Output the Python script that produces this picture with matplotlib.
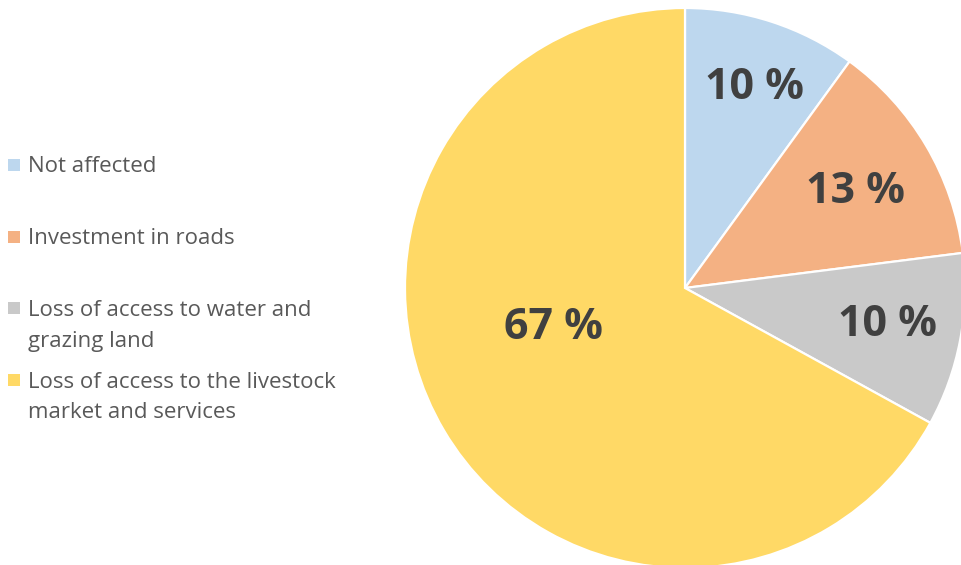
import matplotlib.pyplot as plt
from matplotlib.patches import Rectangle

# share of respondents by effect
categories = ['Not affected', 'Investment in roads',
              'Loss of access to water and\ngrazing land',
              'Loss of access to the livestock\nmarket and services']
shares = [10, 13, 10, 67]
colors = ['#BDD7EE', '#F4B183', '#C9C9C9', '#FFD966']

W, H = 962, 565
fig = plt.figure(figsize=(W / 100, H / 100), dpi=100)

# pie axes: centre (685, 288) px, radius 280 px
cx, cy, r = 685, 288, 280
ax = fig.add_axes([(cx - r) / W, (H - cy - r) / H, 2 * r / W, 2 * r / H])
wedges, texts, pcts = ax.pie(shares, colors=colors, startangle=90, counterclock=False,
                             radius=1, autopct=lambda p: f'{p:.0f} %', pctdistance=0.73,
                             wedgeprops=dict(edgecolor='white', linewidth=1.6),
                             textprops=dict(color='#404040', fontsize=31, fontweight='bold',
                                            family='Open Sans'))
ax.set_xlim(-1, 1)
ax.set_ylim(-1, 1)
ax.set_aspect('equal')
ax.axis('off')

# nudge some labels
pcts[0].set_position((0.25, 0.715))
pcts[1].set_position((0.61, 0.345))
pcts[2].set_position((0.725, -0.13))
pcts[3].set_position((-0.47, -0.14))

# legend on the left, one text per line
rows = [165, 237, 308, 380]
gap = 31
for lab, col, y in zip(categories, colors, rows):
    fig.patches.append(Rectangle((8 / W, 1 - (y + 6) / H), 12 / W, 12 / H,
                                 transform=fig.transFigure, facecolor=col,
                                 edgecolor='none'))
    for i, line in enumerate(lab.split('\n')):
        fig.text(28 / W, 1 - (y + 2 + i * gap) / H, line, ha='left', va='center',
                 fontsize=16, color='#595959', family='Open Sans')

fig.savefig('out.png', dpi=100)
